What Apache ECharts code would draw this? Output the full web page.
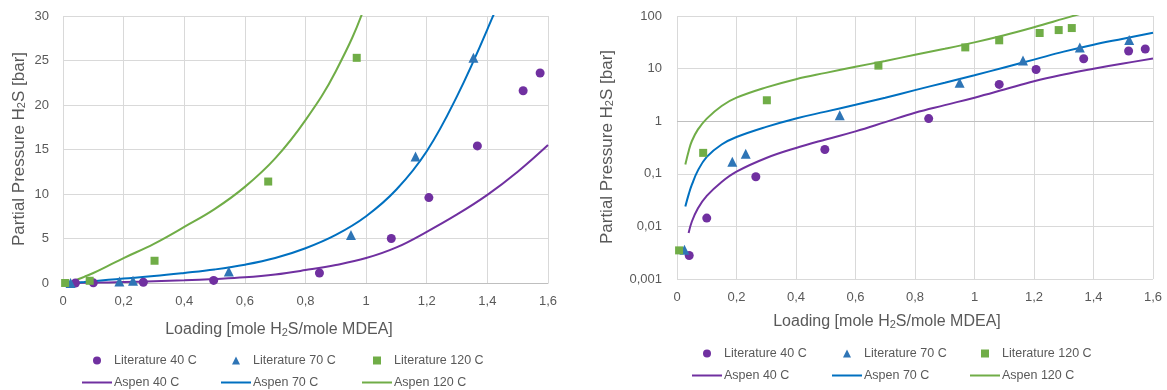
<!DOCTYPE html>
<html>
<head>
<meta charset="utf-8">
<script src="https://cdn.jsdelivr.net/npm/echarts@6/dist/echarts.min.js"></script>
<style>
  html, body { margin: 0; padding: 0; background: #fff; }
  #chart { width: 1167px; height: 390px; }
</style>
</head>
<body>
<div id="chart"></div>
<script>
// literature points [loading, partial pressure]
const lit40 = [[0.041, 0.0028], [0.1, 0.0144], [0.265, 0.088], [0.497, 0.29], [0.846, 1.12],
  [1.083, 5.0], [1.207, 9.6], [1.367, 15.4], [1.518, 21.6], [1.574, 23.6]];
const lit70 = [[0.025, 0.0036], [0.186, 0.17], [0.231, 0.24], [0.547, 1.3], [0.95, 5.4],
  [1.163, 14.2], [1.354, 25.3], [1.52, 35]];
const lit120 = [[0.007, 0.0035], [0.088, 0.25], [0.302, 2.5], [0.677, 11.4], [0.969, 25.3],
  [1.083, 34.5], [1.219, 47.5], [1.283, 54], [1.327, 59]];

// Aspen model curves
const aspen40 = [[0.039, 0.0075], [0.05, 0.0124], [0.07, 0.022], [0.1, 0.038], [0.15, 0.07],
  [0.2, 0.11], [0.3, 0.2], [0.4, 0.31], [0.5, 0.45], [0.6, 0.64], [0.7, 0.96], [0.8, 1.45],
  [0.9, 2.02], [1.0, 2.8], [1.1, 4.0], [1.2, 5.75], [1.3, 7.7], [1.4, 9.9], [1.5, 12.5], [1.6, 15.5]];
const aspen70 = [[0.028, 0.024], [0.04, 0.042], [0.05, 0.062], [0.07, 0.115], [0.1, 0.21],
  [0.15, 0.36], [0.2, 0.5], [0.3, 0.78], [0.4, 1.13], [0.5, 1.52], [0.6, 2.05], [0.7, 2.8],
  [0.8, 3.9], [0.9, 5.4], [1.0, 7.5], [1.1, 10.5], [1.2, 14.8], [1.3, 21], [1.4, 28.5],
  [1.5, 37], [1.6, 48]];
const aspen120 = [[0.028, 0.15], [0.04, 0.28], [0.05, 0.42], [0.07, 0.69], [0.1, 1.12],
  [0.15, 1.95], [0.2, 2.8], [0.3, 4.4], [0.4, 6.3], [0.5, 8.3], [0.6, 10.8], [0.7, 14.0],
  [0.8, 18.3], [0.9, 23.8], [1.0, 31.5], [1.1, 43], [1.2, 61], [1.3, 89], [1.4, 130]];

const yTicksLog = [0.001, 0.01, 0.1, 1, 10, 100];

const FONT = '"Liberation Sans", Arial, sans-serif';
const TXT = '#595959';
const GRIDC = '#d9d9d9';
const C40 = '#7030a0', C70m = '#2e75b6', C70 = '#0070c0', C120 = '#70ad47';

const chart = echarts.init(document.getElementById('chart'));

const comma = (v) => String(+(+v).toPrecision(6)).replace('.', ',');

function xAxisCfg(grid, showLine) {
  return {
    type: 'value', gridIndex: grid, min: 0, max: 1.6, interval: 0.2,
    axisLine: { show: showLine, lineStyle: { color: '#bfbfbf' } },
    axisTick: { show: false },
    axisLabel: { color: TXT, fontSize: 13, fontFamily: FONT, margin: 12, formatter: comma },
    splitLine: { show: true, lineStyle: { color: GRIDC } },
  };
}

function seriesFor(grid) {
  const ax = { xAxisIndex: grid, yAxisIndex: grid };
  const line = (name, data, color) => ({
    ...ax, name, type: 'line', data, symbol: 'none', smooth: 0.4,
    lineStyle: { color, width: 2 }, itemStyle: { color }, z: 3,
  });
  const pts = (name, data, color, symbol, size) => ({
    ...ax, name, type: 'scatter', data, symbol, symbolSize: size,
    itemStyle: { color, opacity: 1 }, z: 4,
  });
  const s = [
    pts('Literature 40 C', lit40, C40, 'circle', 9),
    pts('Literature 70 C', lit70, C70m, 'triangle', 10),
    pts('Literature 120 C', lit120, C120, 'rect', 8),
    line('Aspen 40 C', aspen40, C40),
    line('Aspen 70 C', aspen70, C70),
    line('Aspen 120 C', aspen120, C120),
  ];
  if (grid === 1) {
    // horizontal axis crosses at 1 on the log chart
    s[3].markLine = {
      silent: true, symbol: ['none', 'none'], label: { show: false },
      lineStyle: { color: '#bfbfbf', type: 'solid', width: 1 }, z: 1,
      data: [{ yAxis: 1 }],
    };
  }
  return s;
}

// one legend per entry so the columns line up like the original
function legendItem(left, top, name, kind) {
  const isLine = kind === 'line';
  return {
    left: isLine ? left : left + 11, top, padding: 0, height: 20,
    itemWidth: isLine ? 30 : 8, itemHeight: isLine ? 2 : 8,
    selectedMode: false,
    data: [{ name, icon: kind === 'line' ? 'rect' : kind }],
    textStyle: {
      color: TXT, fontSize: 12.5, fontFamily: FONT,
      padding: [0, 0, 0, isLine ? -3 : 8],
    },
  };
}

function legendBlock(lefts, top1, top2) {
  const t = ['40', '70', '120'];
  const kinds = ['circle', 'triangle', 'rect'];
  const out = [];
  lefts.forEach((l, i) => {
    out.push(legendItem(l, top1, 'Literature ' + t[i] + ' C', kinds[i]));
    out.push(legendItem(l, top2, 'Aspen ' + t[i] + ' C', 'line'));
  });
  return out;
}

function title(x, y, text, size, rot) {
  return {
    type: 'text', x, y, rotation: rot ? Math.PI / 2 : 0,
    style: {
      text, fill: TXT, font: size + 'px ' + FONT, align: 'center', verticalAlign: 'middle',
      rich: { sub: { fontSize: 11, fontFamily: FONT, fill: TXT, verticalAlign: 'bottom', padding: [6, 0, 0, 0] } },
    },
  };
}

chart.setOption({
  backgroundColor: '#fff',
  animation: false,
  grid: [
    { left: 63, top: 16, width: 485, height: 267 },
    { left: 677, top: 16, width: 476, height: 263 },
  ],
  xAxis: [xAxisCfg(0, true), xAxisCfg(1, false)],
  yAxis: [
    {
      type: 'value', gridIndex: 0, min: 0, max: 30, interval: 5,
      axisLine: { show: false }, axisTick: { show: false },
      axisLabel: { color: TXT, fontSize: 13, fontFamily: FONT, margin: 14 },
      splitLine: { lineStyle: { color: GRIDC } },
    },
    {
      type: 'log', gridIndex: 1, logBase: 10, min: yTicksLog[0], max: yTicksLog[yTicksLog.length - 1],
      axisLine: { show: false }, axisTick: { show: false },
      axisLabel: { color: TXT, fontSize: 13, fontFamily: FONT, margin: 15, formatter: comma },
      splitLine: { lineStyle: { color: GRIDC } },
    },
  ],
  legend: [
    ...legendBlock([82, 221, 362], 354, 376),
    ...legendBlock([692, 832, 970], 347, 369),
  ],
  graphic: [
    title(19, 149, 'Partial Pressure H{sub|2}S [bar]', 17, true),
    title(607, 147, 'Partial Pressure H{sub|2}S [bar]', 17, true),
    title(279, 330, 'Loading [mole H{sub|2}S/mole MDEA]', 16, false),
    title(887, 322, 'Loading [mole H{sub|2}S/mole MDEA]', 16, false),
  ],
  series: [...seriesFor(0), ...seriesFor(1)],
});
</script>
</body>
</html>
